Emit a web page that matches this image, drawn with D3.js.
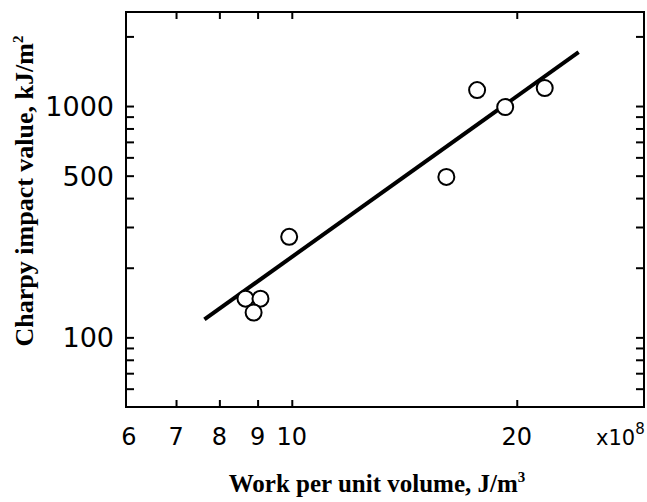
<!DOCTYPE html>
<html>
<head>
<meta charset="utf-8">
<script src="https://cdnjs.cloudflare.com/ajax/libs/d3/7.8.5/d3.min.js"></script>
<style>
    body { margin: 0; background: #fff; }
    svg { display: block; }
</style>
</head>
<body>
<div id="canvas"></div>
<script>
// work per unit volume (x10^8 J/m^3) and charpy impact value (kJ/m^2)
var workValues = [8.67, 9.08, 8.89, 9.92, 16.1, 17.7, 19.3, 21.8];
var charpyValues = [147, 147, 128, 272, 494, 1172, 990, 1196];

// regression line end points
var fitX = [7.64, 24.2];
var fitY = [119.6, 1709];

var xTickValues = [7, 8, 9, 10, 20];
var xLabelValues = [6, 7, 8, 9, 10, 20];
var yTickValues = [60, 70, 80, 90, 100, 200, 300, 400, 500, 600, 700, 800, 900, 1000, 2000];
var yLabelValues = [100, 500, 1000];

var width = 647, height = 502;
// plot frame (note: "top" is taken by window.top)
var plotL = 126, plotR = 644, plotT = 12, plotB = 407;

var svg = d3.select("#canvas").append("svg").attr("width", width).attr("height", height);

var x = d3.scaleLog().domain([6, 29.6]).range([plotL, plotR]);
var y = d3.scaleLog().domain([50, 2550]).range([plotB, plotT]);

var tickFont = "'DejaVu Sans', sans-serif";
var titleFont = "'Liberation Serif', 'Times New Roman', serif";

// ticks, pointing inward on all four sides
var xBottom = d3.axisBottom(x).tickValues(xTickValues).tickSize(-7).tickFormat("");
var xTop = d3.axisTop(x).tickValues(xTickValues).tickSize(-7).tickFormat("");
var yLeft = d3.axisLeft(y).tickValues(yTickValues).tickSize(-8).tickFormat("");
var yRight = d3.axisRight(y).tickValues(yTickValues).tickSize(-8).tickFormat("");

svg.append("g").attr("transform", "translate(0," + plotB + ")").call(xBottom);
svg.append("g").attr("transform", "translate(0," + plotT + ")").call(xTop);
svg.append("g").attr("transform", "translate(" + plotL + ",0)").call(yLeft);
svg.append("g").attr("transform", "translate(" + plotR + ",0)").call(yRight);

svg.selectAll(".domain").remove();
svg.selectAll(".tick line").attr("stroke", "#000").attr("stroke-width", 2);

// frame
svg.append("rect")
    .attr("x", plotL)
    .attr("y", plotT)
    .attr("width", plotR - plotL)
    .attr("height", plotB - plotT)
    .attr("fill", "none")
    .attr("stroke", "#000")
    .attr("stroke-width", 2);

// tick labels
svg.selectAll(".xlabel")
    .data(xLabelValues)
    .enter()
    .append("text")
    .attr("class", "xlabel")
    .attr("x", function(d) { return d == 6 ? x(d) + 3 : x(d); })
    .attr("y", 445)
    .attr("text-anchor", "middle")
    .attr("font-family", tickFont)
    .attr("font-size", "24px")
    .text(function(d) { return d; });

var mult = svg.append("text")
    .attr("x", 596)
    .attr("y", 445)
    .attr("font-family", tickFont)
    .attr("font-size", "21px");
mult.append("tspan").text("x10");
mult.append("tspan").attr("dy", -11).attr("font-size", "15px").text("8");

svg.selectAll(".ylabel")
    .data(yLabelValues)
    .enter()
    .append("text")
    .attr("class", "ylabel")
    .attr("x", plotL - 12)
    .attr("y", function(d) { return y(d) + 10; })
    .attr("text-anchor", "end")
    .attr("font-family", tickFont)
    .attr("font-size", "27px")
    .text(function(d) { return d; });

// axis titles
var xTitle = svg.append("text")
    .attr("x", 377)
    .attr("y", 492)
    .attr("text-anchor", "middle")
    .attr("font-family", titleFont)
    .attr("font-weight", "bold")
    .attr("font-size", "25px");
xTitle.append("tspan").text("Work per unit volume, J/m");
xTitle.append("tspan").attr("dy", -10).attr("font-size", "15px").text("3");

var yTitle = svg.append("text")
    .attr("transform", "translate(33," + 191 + ") rotate(-90)")
    .attr("text-anchor", "middle")
    .attr("font-family", titleFont)
    .attr("font-weight", "bold")
    .attr("font-size", "26px");
yTitle.append("tspan").text("Charpy impact value, kJ/m");
yTitle.append("tspan").attr("dy", -10).attr("font-size", "15px").text("2");

// regression line
var line = d3.line()
    .x(function(d) { return x(d[0]); })
    .y(function(d) { return y(d[1]); });

svg.append("path")
    .datum(d3.zip(fitX, fitY))
    .attr("d", line)
    .attr("fill", "none")
    .attr("stroke", "#000")
    .attr("stroke-width", 4);

// data points
svg.selectAll("circle")
    .data(d3.zip(workValues, charpyValues))
    .enter()
    .append("circle")
    .attr("cx", function(d) { return x(d[0]); })
    .attr("cy", function(d) { return y(d[1]); })
    .attr("r", 8)
    .attr("fill", "#fff")
    .attr("stroke", "#000")
    .attr("stroke-width", 2);
</script>
</body>
</html>
